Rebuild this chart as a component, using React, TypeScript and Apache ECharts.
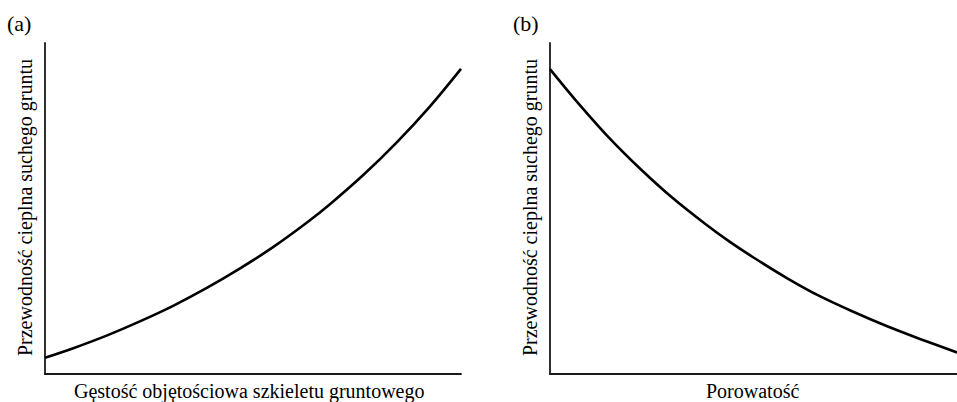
import React, { useEffect, useRef } from "react";
import * as echarts from "echarts";

// Panel (a): dry soil thermal conductivity vs dry bulk density (relative units)
const densityX = [0, 6.8, 14.8, 22.8, 30.8, 38.9, 46.9, 54.9, 62.9, 68.5, 76.5, 84.5, 92.5, 100];
const conductivityA = [4.9, 7.8, 11.6, 15.9, 20.6, 26.0, 31.9, 38.4, 45.7, 51.3, 60.1, 69.9, 80.8, 92.2];

// Panel (b): dry soil thermal conductivity vs porosity (relative units)
const porosityX = [0, 5.7, 13.9, 22.1, 30.3, 38.5, 44.2, 50.0, 58.2, 66.3, 74.5, 82.7, 90.9, 100];
const conductivityB = [92.1, 83.6, 72.2, 62.1, 53.0, 45.0, 39.9, 35.2, 29.0, 23.5, 18.8, 14.5, 10.6, 6.5];

const panelLabels = ["(a)", "(b)"];
const xAxisNames = ["Gęstość objętościowa szkieletu gruntowego", "Porowatość"];
const yAxisName = "Przewodność cieplna suchego gruntu";

const FONT = "Times New Roman";

export default function App() {
  const ref = useRef<HTMLDivElement>(null);

  useEffect(() => {
    if (!ref.current) return;
    const chart = echarts.init(ref.current, undefined, { renderer: "svg" });

    const grids = [
      { left: 45, top: 43, width: 416, height: 331 },
      { left: 550, top: 43, width: 407, height: 331 },
    ];

    const axisLine = { show: true, lineStyle: { color: "#1a1a1a", width: 1.8 } };
    const mkAxis = (i: number) => ({
      type: "value" as const,
      gridIndex: i,
      min: 0,
      max: 100,
      axisLine,
      axisTick: { show: false },
      axisLabel: { show: false },
      splitLine: { show: false },
    });

    // Approximate left offsets so each x-axis title is centred under its grid
    const xNameLeft = [74, 706];
    const panelLeft = [7, 513];

    const graphics: any[] = [];
    grids.forEach((g, i) => {
      graphics.push({
        type: "text",
        left: panelLeft[i],
        top: 12,
        style: { text: panelLabels[i], fontFamily: FONT, fontSize: 22 },
      });
      graphics.push({
        type: "text",
        left: xNameLeft[i],
        top: 381,
        style: { text: xAxisNames[i], fontFamily: FONT, fontSize: 20 },
      });
      graphics.push({
        type: "text",
        x: g.left - 20.5,
        y: g.top + g.height / 2 - 1,
        rotation: Math.PI / 2,
        style: {
          text: yAxisName,
          fontFamily: FONT,
          fontSize: 20,
          align: "center",
          verticalAlign: "middle",
        },
      });
    });

    chart.setOption({
      animation: false,
      backgroundColor: "#ffffff",
      grid: grids,
      xAxis: [mkAxis(0), mkAxis(1)],
      yAxis: [mkAxis(0), mkAxis(1)],
      graphic: graphics,
      series: [
        {
          type: "line",
          xAxisIndex: 0,
          yAxisIndex: 0,
          data: densityX.map((x, i) => [x, conductivityA[i]]),
          smooth: 0.3,
          showSymbol: false,
          lineStyle: { color: "#000", width: 2.6 },
        },
        {
          type: "line",
          xAxisIndex: 1,
          yAxisIndex: 1,
          data: porosityX.map((x, i) => [x, conductivityB[i]]),
          smooth: 0.3,
          showSymbol: false,
          lineStyle: { color: "#000", width: 2.6 },
        },
      ],
    });

    return () => chart.dispose();
  }, []);

  return (
    <div
      ref={ref}
      style={{ position: "fixed", left: 0, top: 0, width: 957, height: 402, background: "#fff" }}
    />
  );
}
